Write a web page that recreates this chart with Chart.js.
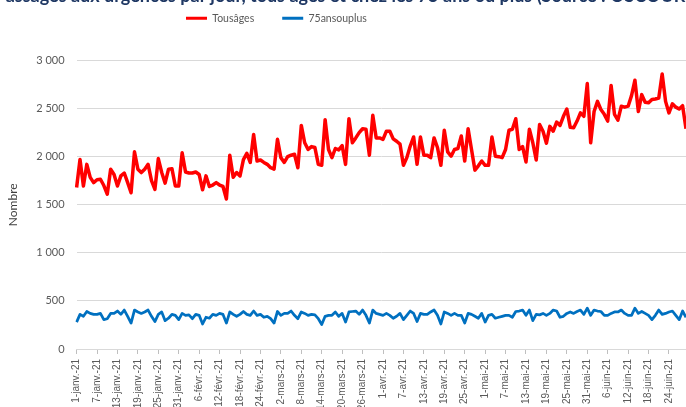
<!DOCTYPE html>
<html>
<head>
<meta charset="utf-8">
<script src="https://cdn.jsdelivr.net/npm/chart.js@4.4.1/dist/chart.umd.min.js"></script>
<style>
    html, body { margin: 0; padding: 0; background: #fff; overflow: hidden; }
    #wrap { position: relative; width: 686px; height: 407px; overflow: hidden; }
    #wrap canvas { position: absolute; left: 0; top: -16px; }
    #titre {
        position: absolute; left: -100px; top: -14px; width: 900px;
        text-align: center; white-space: nowrap;
        font: bold 18px/18px Lato, sans-serif; color: #1f3864; z-index: 2;
    }
</style>
</head>
<body>
<div id="wrap">
    <div id="titre">Passages aux urgences par jour, tous âges et chez les 75 ans ou plus (Source : OSCOUR®)</div>
    <canvas id="urgencesChart" width="686" height="445"></canvas>
</div>
<script>
// catégories : un point par jour à partir du 1er janvier 2021
const moisNoms = ['janv.', 'févr.', 'mars', 'avr.', 'mai', 'juin'];
const moisJours = [31, 28, 31, 30, 31, 30];

// nombre par jour, tous âges
const tousAges = [
    1680, 1970, 1695, 1920, 1785, 1730, 1760, 1765, 1700, 1610,
    1870, 1815, 1695, 1800, 1830, 1730, 1625, 2050, 1870, 1835,
    1870, 1920, 1750, 1660, 1980, 1835, 1725, 1870, 1875, 1695,
    1695, 2040, 1840, 1830, 1830, 1840, 1815, 1655, 1800, 1690,
    1705, 1730, 1705, 1690, 1560, 2015, 1785, 1835, 1800, 1970,
    2035, 1940, 2230, 1955, 1965, 1940, 1920, 1885, 1870, 2180,
    1990, 1940, 2000, 2015, 2025, 1885, 2325, 2145, 2075, 2105,
    2095, 1920, 1910, 2385, 2075, 1990, 2085, 2070, 2115, 1920,
    2395, 2145, 2195, 2250, 2290, 2285, 2015, 2430, 2195, 2195,
    2180, 2265, 2265, 2185, 2160, 2130, 1910, 1990, 2110, 2205,
    1920, 2205, 2015, 2015, 1990, 2195, 2095, 1910, 2275, 2050,
    2005, 2075, 2085, 2215, 1955, 2290, 2075, 1860, 1905, 1955,
    1910, 1910, 2205, 2005, 2000, 1990, 2075, 2275, 2285, 2395,
    2075, 2105, 1945, 2285, 2145, 1965, 2335, 2265, 2140, 2315,
    2265, 2360, 2325, 2420, 2495, 2305, 2300, 2370, 2455, 2420,
    2760, 2145, 2470, 2575, 2490, 2440, 2370, 2740, 2440, 2380,
    2525, 2515, 2525, 2635, 2795, 2470, 2645, 2565, 2560, 2595,
    2600, 2610, 2860, 2575, 2455, 2550, 2515, 2495, 2530, 2290
];

// nombre par jour, 75 ans ou plus
const plus75 = [
    280, 360, 340, 390, 370, 360, 360, 370, 305, 315,
    370, 370, 395, 360, 405, 340, 270, 405, 385, 370,
    385, 405, 340, 285, 360, 385, 295, 320, 360, 350,
    305, 370, 350, 355, 315, 360, 350, 260, 330, 320,
    360, 350, 370, 360, 270, 385, 360, 340, 360, 390,
    360, 350, 395, 350, 360, 330, 340, 315, 270, 390,
    350, 370, 370, 395, 350, 315, 385, 370, 350, 360,
    355, 315, 255, 340, 350, 350, 385, 340, 370, 280,
    385, 390, 395, 360, 405, 350, 270, 405, 370, 360,
    350, 370, 350, 320, 340, 370, 305, 350, 395, 370,
    285, 370, 360, 360, 385, 405, 350, 260, 385, 370,
    350, 370, 350, 350, 270, 370, 360, 340, 320, 370,
    280, 350, 360, 320, 330, 340, 350, 350, 330, 390,
    395, 405, 350, 405, 295, 360, 355, 370, 350, 370,
    405, 395, 330, 340, 370, 385, 370, 390, 405, 360,
    425, 350, 405, 395, 390, 350, 350, 370, 385, 385,
    405, 370, 350, 350, 425, 370, 390, 370, 350, 305,
    350, 405, 360, 370, 385, 395, 350, 305, 395, 330
];

const yTicks = [0, 500, 1000, 1500, 2000, 2500, 3000];

let labels = [];
moisNoms.forEach((m, k) => {
    for (let d = 1; d <= moisJours[k]; d++) {
        labels.push(d + '-' + m + '-21');
    }
});
labels = labels.slice(0, tousAges.length);

function formatMilliers(v) {
    return String(v).replace(/\B(?=(\d{3})+(?!\d))/g, ' ');
}

// place la légende comme sur l'original (à gauche du centre, près du titre)
const placeLegende = {
    id: 'placeLegende',
    afterLayout(chart) {
        const lg = chart.legend;
        const dx = 186 - (lg.left + lg.options.labels.padding);
        const dy = -27;
        lg.left += dx;
        lg.right += dx;
        lg.top += dy;
        lg.bottom += dy;
    }
};

Chart.defaults.font.family = 'Lato, sans-serif';

var ctx = document.getElementById('urgencesChart').getContext('2d');
var chart = new Chart(ctx, {
    type: 'line',
    data: {
        labels: labels,
        datasets: [{
            label: 'Tousâges',
            data: tousAges,
            borderColor: '#ff0000',
            backgroundColor: '#ff0000',
            borderWidth: 3.5,
            pointRadius: 0,
            borderJoinStyle: 'round',
            tension: 0
        }, {
            label: '75ansouplus',
            data: plus75,
            borderColor: '#0070c0',
            backgroundColor: '#0070c0',
            borderWidth: 2.75,
            pointRadius: 0,
            borderJoinStyle: 'round',
            tension: 0
        }]
    },
    options: {
        responsive: false,
        animation: false,
        layout: {
            padding: { top: 28, right: 0, bottom: 0, left: 0 }
        },
        plugins: {
            legend: {
                display: true,
                position: 'top',
                align: 'start',
                labels: {
                    boxWidth: 21,
                    boxHeight: 3,
                    padding: 28,
                    color: '#595959',
                    font: { size: 10.5 },
                    // trait plein sans bordure, comme les repères de l'original
                    generateLabels: function (chart) {
                        return Chart.defaults.plugins.legend.labels.generateLabels(chart)
                            .map(item => Object.assign(item, { lineWidth: 0 }));
                    }
                }
            },
            tooltip: { enabled: false }
        },
        scales: {
            x: {
                grid: {
                    drawOnChartArea: false,
                    drawTicks: true,
                    tickLength: 5,
                    color: '#bfbfbf'
                },
                border: { display: true, color: '#d9d9d9' },
                ticks: {
                    autoSkip: false,
                    minRotation: 90,
                    maxRotation: 90,
                    padding: 5,
                    color: '#595959',
                    font: { family: '"Liberation Sans", Arial, sans-serif', size: 10 },
                    callback: function (val, i) {
                        return i % 6 === 0 ? this.getLabelForValue(val) : null;
                    }
                },
                afterFit: function (scale) {
                    scale.height = 80;
                    scale.paddingLeft = 0;
                    scale.paddingRight = 0;
                }
            },
            y: {
                min: yTicks[0],
                max: yTicks[yTicks.length - 1],
                afterBuildTicks: function (scale) {
                    scale.ticks = yTicks.map(v => ({ value: v }));
                },
                grid: {
                    color: '#d9d9d9',
                    drawTicks: false
                },
                border: { display: false },
                ticks: {
                    padding: 12,
                    color: '#595959',
                    font: { size: 11 },
                    callback: v => formatMilliers(v)
                },
                title: {
                    display: true,
                    text: 'Nombre',
                    color: '#404040',
                    font: { size: 12 },
                    padding: { top: 6, bottom: 0 }
                },
                afterFit: function (scale) { scale.width = 76.6; }
            }
        }
    },
    plugins: [placeLegende]
});
</script>
</body>
</html>
